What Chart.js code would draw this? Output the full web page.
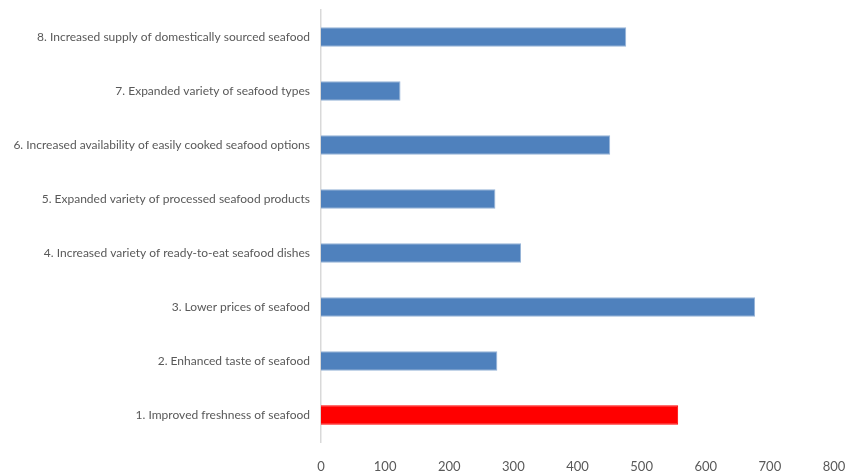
<!DOCTYPE html>
<html><head><meta charset="utf-8">
<script src="https://cdn.jsdelivr.net/npm/chart.js@4"></script>
<style>html,body{margin:0;padding:0;background:#fff}#wrap{width:847px;height:473px}</style>
</head><body><div id="wrap"><canvas id="c" width="847" height="473"></canvas></div>
<script>
const categories = [
  "8. Increased supply of domestically sourced seafood",
  "7. Expanded variety of seafood types",
  "6. Increased availability of easily cooked seafood options",
  "5. Expanded variety of processed seafood products",
  "4. Increased variety of ready-to-eat seafood dishes",
  "3. Lower prices of seafood",
  "2. Enhanced taste of seafood",
  "1. Improved freshness of seafood"
];
const values = [476, 124, 451, 272, 312, 677, 275, 557];
const barColors = ["#4f81bd","#4f81bd","#4f81bd","#4f81bd","#4f81bd","#4f81bd","#4f81bd","#ff0000"];
const xTicks = [0,100,200,300,400,500,600,700,800];

const FONT = "Lato, sans-serif";
new Chart(document.getElementById('c'), {
  type: 'bar',
  data: { labels: categories, datasets: [{ data: values, backgroundColor: barColors,
    borderColor: barColors.map(c => c === "#ff0000" ? "#ff0000" : "#95b3d7"), borderWidth: 1,
    categoryPercentage: 1, barPercentage: 0.36 }] },
  options: {
    indexAxis: 'y', responsive: false, animation: false,
    layout: { padding: { left: 0, right: 13, top: 10, bottom: 0 } },
    plugins: { legend: { display: false }, tooltip: { enabled: false } },
    scales: {
      x: { min: 0, max: 800, afterBuildTicks: s => { s.ticks = xTicks.map(v => ({value: v})); },
        afterFit: s => { s.height = 31; s.paddingLeft = 0; s.paddingRight = 0; },
        grid: { display: false, drawTicks: false }, border: { display: false },
        ticks: { color: '#595959', font: { family: FONT, size: 13 }, padding: 17, maxRotation: 0 } },
      y: { grid: { display: false, drawTicks: false }, border: { display: true, color: '#d9d9d9', width: 1.5 },
        afterFit: s => { s.width = 321; s.paddingTop = 0; s.paddingBottom = 0; },
        ticks: { color: '#595959', font: { family: FONT, size: 12 }, padding: 11 } }
    }
  }
});
</script></body></html>
